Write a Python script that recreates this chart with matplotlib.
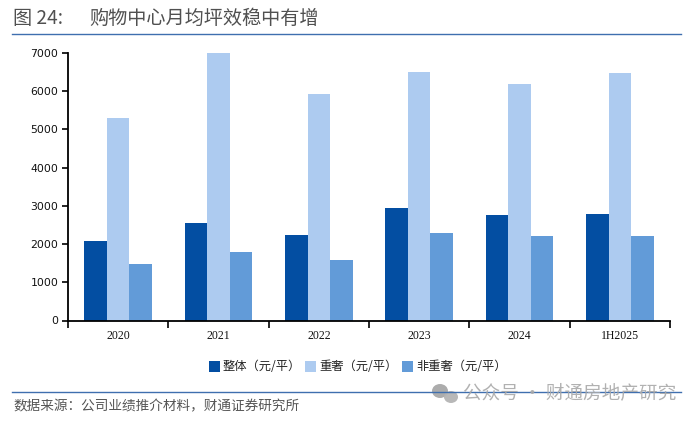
import matplotlib
matplotlib.use("Agg")
import matplotlib.pyplot as plt
from matplotlib.lines import Line2D
from matplotlib.patches import Ellipse
import numpy as np

plt.rcParams['font.family'] = ['Noto Sans CJK SC', 'DejaVu Sans']

categories = ["2020", "2021", "2022", "2023", "2024", "1H2025"]
overall = [2080, 2560, 2250, 2950, 2770, 2790]
luxury = [5290, 6990, 5930, 6490, 6190, 6470]
non_luxury = [1490, 1800, 1590, 2290, 2220, 2200]
series_names = ["整体（元/平）", "重奢（元/平）", "非重奢（元/平）"]
colors = ["#034EA2", "#ADCBF0", "#629BD8"]
yticks = [0, 1000, 2000, 3000, 4000, 5000, 6000, 7000]

W, H = 700, 421
fig = plt.figure(figsize=(W / 100, H / 100), dpi=100, facecolor="white")
ax = fig.add_axes([68 / W, 1 - 320.5 / H, (670 - 68) / W, (320.5 - 53) / H])

x = np.arange(len(categories))
w = 0.225
for off, vals, c, n in zip([-w, 0, w], [overall, luxury, non_luxury], colors, series_names):
    ax.bar(x + off, vals, w, color=c, label=n, linewidth=0)

ax.set_xlim(-0.5, 5.5)
ax.set_ylim(0, 7000)
ax.set_yticks(yticks)
ax.set_xticks(x)
ax.set_xticklabels(categories, family="Liberation Serif", fontsize=8.5, color="#111111")
ax.set_xticks(np.arange(-0.5, 6), minor=True)
ax.tick_params(axis="x", which="major", length=0, pad=7)
ax.tick_params(axis="x", which="minor", length=5, width=1.2, direction="out")
ax.tick_params(axis="y", length=4, width=1.2, direction="out", pad=3, labelcolor="#111111")
for s in ["top", "right"]:
    ax.spines[s].set_visible(False)
for s in ["left", "bottom"]:
    ax.spines[s].set_linewidth(1.3)
    ax.spines[s].set_color("black")
for t in ax.get_yticklabels():
    t.set_family("DejaVu Sans")
    t.set_fontsize(7.8)

leg = fig.legend(loc="center", bbox_to_anchor=(357.5 / W, 1 - 367 / H), ncol=3, frameon=False,
                 fontsize=8.8, handlelength=0.9, handleheight=1.0, handletextpad=0.25,
                 columnspacing=0.35, labelcolor="#222222")

fig.text(13 / W, 1 - 18.5 / H, "图 24:", fontsize=13.8, color="#505050", va="center", ha="left", fontweight="medium")
fig.text(89 / W, 1 - 18.5 / H, "购物中心月均坪效稳中有增", fontsize=13.8, color="#505050", va="center", ha="left", fontweight="medium")
fig.add_artist(Line2D([12 / W, 681 / W], [1 - 33.5 / H] * 2, color="#3F6FAF", lw=1))
fig.add_artist(Line2D([12 / W, 681 / W], [1 - 391.5 / H] * 2, color="#3F6FAF", lw=1))
fig.text(13 / W, 1 - 406 / H, "数据来源：公司业绩推介材料，财通证券研究所", fontsize=9.8, color="#555555", va="center", ha="left")

fig.add_artist(Ellipse((440 / W, 1 - 391 / H), 16 / W, 14 / H, color="#A8A8A8", alpha=.95, lw=0))
fig.add_artist(Ellipse((451 / W, 1 - 397 / H), 14 / W, 12 / H, color="#B4B4B4", alpha=.95, lw=0))
fig.text(463 / W, 1 - 393 / H, "公众号 · 财通房地产研究", fontsize=13.4, color="#A9A9A9", alpha=.9, va="center", ha="left")

fig.savefig("out.png", dpi=100, facecolor="white")
